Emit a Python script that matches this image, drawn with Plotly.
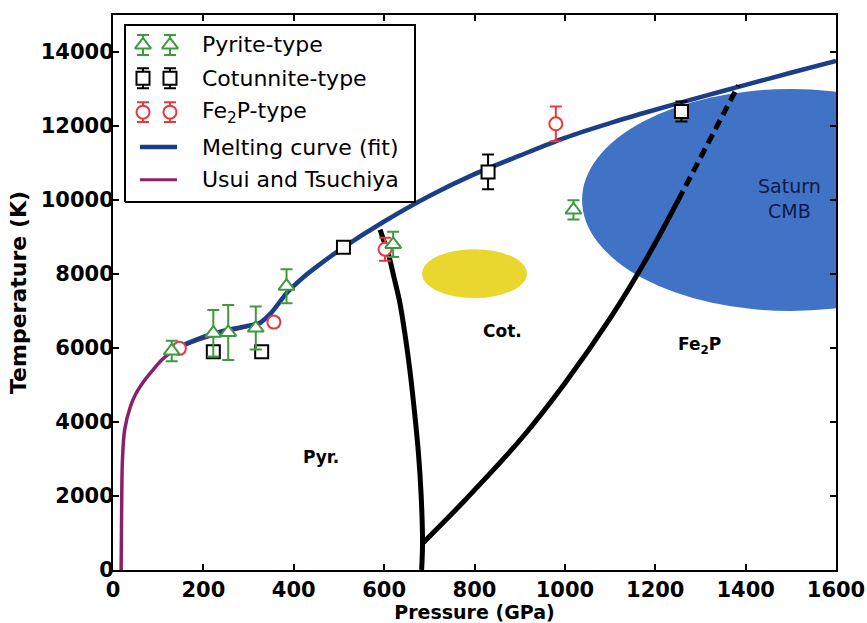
import plotly.graph_objects as go

# ---------------- data ----------------
pyr_P = [130, 222, 255, 316, 384, 620, 1019]
pyr_T = [5920, 6400, 6420, 6540, 7670, 8800, 9730]
pyr_err = [275, 630, 745, 580, 460, 340, 260]

cot_P = [222, 329, 510, 830, 1258]
cot_T = [5900, 5900, 8720, 10760, 12390]
cot_err = [90, 90, 110, 470, 270]

fe2p_P = [147, 356, 602, 980]
fe2p_T = [5990, 6700, 8670, 12060]
fe2p_err = [110, 110, 310, 470]

fit_P = [150, 200, 250, 300, 325, 350, 384, 420, 451, 510, 600, 700, 800, 900,
         1000, 1100, 1200, 1300, 1400, 1500, 1600]
fit_T = [6050, 6300, 6480, 6600, 6680, 6950, 7480, 7900, 8200, 8720, 9420, 10110,
         10700, 11200, 11680, 12080, 12440, 12780, 13110, 13440, 13760]

usui_P = [18, 19, 21, 26, 38, 50, 67, 90, 110, 130, 160, 200, 250, 300, 330]
usui_T = [0, 1500, 3000, 3800, 4400, 4750, 5080, 5430, 5700, 5900, 6080, 6260, 6440, 6590, 6680]

pyr_cot_P = [683, 685, 682, 676, 667, 657, 647, 635, 622, 609, 598, 591]
pyr_cot_T = [0, 720, 2000, 3150, 4300, 5400, 6300, 7210, 7900, 8560, 8950, 9200]

cot_fe_P = [685, 780, 900, 1000, 1100, 1180, 1251]
cot_fe_T = [720, 1900, 3500, 5050, 6800, 8400, 10000]

cot_fe_dash_P = [1251, 1318, 1384]
cot_fe_dash_T = [10000, 11560, 13100]

# ellipses: center P, center T, semi-axis P, semi-axis T
yellow_ell = [800, 8010, 116, 660]
saturn_ell = [1500, 10000, 462, 3000]

region_labels = ["Pyr.", "Cot.", "Fe<sub>2</sub>P", "Saturn<br>CMB"]
region_P = [460, 862, 1297, 1498]
region_T = [3050, 6450, 6080, 10030]

legend_names = ["Pyrite-type", "Cotunnite-type", "Fe<sub>2</sub>P-type",
                "Melting curve (fit)", "Usui and Tsuchiya"]

x_ticks = list(range(0, 1601, 200))
y_ticks = list(range(0, 14001, 2000))

# ---------------- styles ----------------
GREEN = "#3f9a3f"
RED = "#e8383d"
BLACK = "#000000"
NAVY = "#1a3f86"
PURPLE = "#8a1f6e"
FONT = "DejaVu Sans"

fig = go.Figure()

# ellipses
for ell, col in [(yellow_ell, "#e9d62e"), (saturn_ell, "#4072c6")]:
    cx, cy, rx, ry = ell
    fig.add_shape(type="circle", xref="x", yref="y",
                  x0=cx - rx, x1=cx + rx, y0=cy - ry, y1=cy + ry,
                  fillcolor=col, line=dict(width=0), layer="below")

# curves
fig.add_trace(go.Scatter(x=usui_P, y=usui_T, mode="lines", line_shape="spline",
                         line=dict(color=PURPLE, width=3.5), showlegend=False))
fig.add_trace(go.Scatter(x=fit_P, y=fit_T, mode="lines", line_shape="spline",
                         line=dict(color=NAVY, width=4.5, smoothing=0.8), showlegend=False))
fig.add_trace(go.Scatter(x=pyr_cot_P, y=pyr_cot_T, mode="lines", line_shape="spline",
                         line=dict(color=BLACK, width=5), showlegend=False))
fig.add_trace(go.Scatter(x=cot_fe_P, y=cot_fe_T, mode="lines", line_shape="spline",
                         line=dict(color=BLACK, width=5), showlegend=False))
fig.add_trace(go.Scatter(x=cot_fe_dash_P, y=cot_fe_dash_T, mode="lines",
                         line=dict(color=BLACK, width=5, dash="10px,6px"), showlegend=False))

def pts(P, T, err, color, symbol, size, xa="x", ya="y"):
    return go.Scatter(x=P, y=T, mode="markers", xaxis=xa, yaxis=ya,
                      marker=dict(symbol=symbol, size=size, color="white",
                                  line=dict(color=color, width=2)),
                      error_y=dict(type="data", array=err, color=color,
                                   thickness=2, width=6),
                      showlegend=False)

fig.add_trace(pts(cot_P, cot_T, cot_err, BLACK, "square", 13))
fig.add_trace(pts(fe2p_P, fe2p_T, fe2p_err, RED, "circle", 13))
fig.add_trace(pts(pyr_P, pyr_T, pyr_err, GREEN, "triangle-up", 14))

# ---------------- custom legend (overlay axes in 0..1 units) ----------------
bx0, bx1, by0, by1 = 0.0166, 0.4177, 0.663, 0.982
fig.add_trace(go.Scatter(x=[bx0, bx1, bx1, bx0, bx0], y=[by0, by0, by1, by1, by0],
                         xaxis="x2", yaxis="y2", mode="lines", fill="toself",
                         fillcolor="white", line=dict(color="black", width=2),
                         showlegend=False, hoverinfo="skip"))
row_y = [0.946, 0.886, 0.825, 0.762, 0.703]
mk_x = [0.0415, 0.0788]
leg_specs = [(GREEN, "triangle-up", 14), (BLACK, "square", 13), (RED, "circle", 13)]
for i, (col, sym, sz) in enumerate(leg_specs):
    fig.add_trace(pts(mk_x, [row_y[i]] * 2, [0.018, 0.018], col, sym, sz, "x2", "y2"))
for i, col in [(3, NAVY), (4, PURPLE)]:
    fig.add_trace(go.Scatter(x=[0.0373, 0.0885], y=[row_y[i]] * 2, xaxis="x2", yaxis="y2",
                             mode="lines", line=dict(color=col, width=4.5 if i == 3 else 3),
                             showlegend=False))
for i, name in enumerate(legend_names):
    fig.add_annotation(x=0.1203, y=row_y[i], xref="paper", yref="paper", text=name,
                       showarrow=False, xanchor="left", yanchor="middle",
                       font=dict(family=FONT, size=22, color="black"))

# region labels
for i, (lab, px, ty) in enumerate(zip(region_labels, region_P, region_T)):
    if i < 3:
        f = dict(family=FONT, size=17, color="black", weight="bold")
    else:
        f = dict(family=FONT, size=19, color="#101a45")
    fig.add_annotation(x=px, y=ty, xref="x", yref="y", text=lab, showarrow=False, font=f)

axis_common = dict(showline=True, linecolor="black", linewidth=2, mirror="ticks",
                   ticks="inside", ticklen=6, tickwidth=1.5, tickcolor="black",
                   showgrid=False, zeroline=False, tickformat="d", automargin=False,
                   tickfont=dict(family=FONT, size=21, color="black", weight="bold"))

fig.update_layout(
    width=867, height=623,
    margin=dict(l=113, r=31, t=15, b=53),
    paper_bgcolor="white", plot_bgcolor="white",
    showlegend=False,
    xaxis=dict(range=[0, 1600], tickvals=x_ticks,
               title=dict(text="Pressure (GPa)", standoff=0,
                          font=dict(family=FONT, size=19, color="black", weight="bold")),
               **axis_common),
    yaxis=dict(range=[0, 15000], tickvals=y_ticks, ticklabelstandoff=-7,
               title=dict(text="Temperature (K)", standoff=8,
                          font=dict(family=FONT, size=22, color="black", weight="bold")),
               **axis_common),
    xaxis2=dict(overlaying="x", range=[0, 1], visible=False, fixedrange=True),
    yaxis2=dict(overlaying="y", range=[0, 1], visible=False, fixedrange=True),
)

fig.write_html("out.html")
